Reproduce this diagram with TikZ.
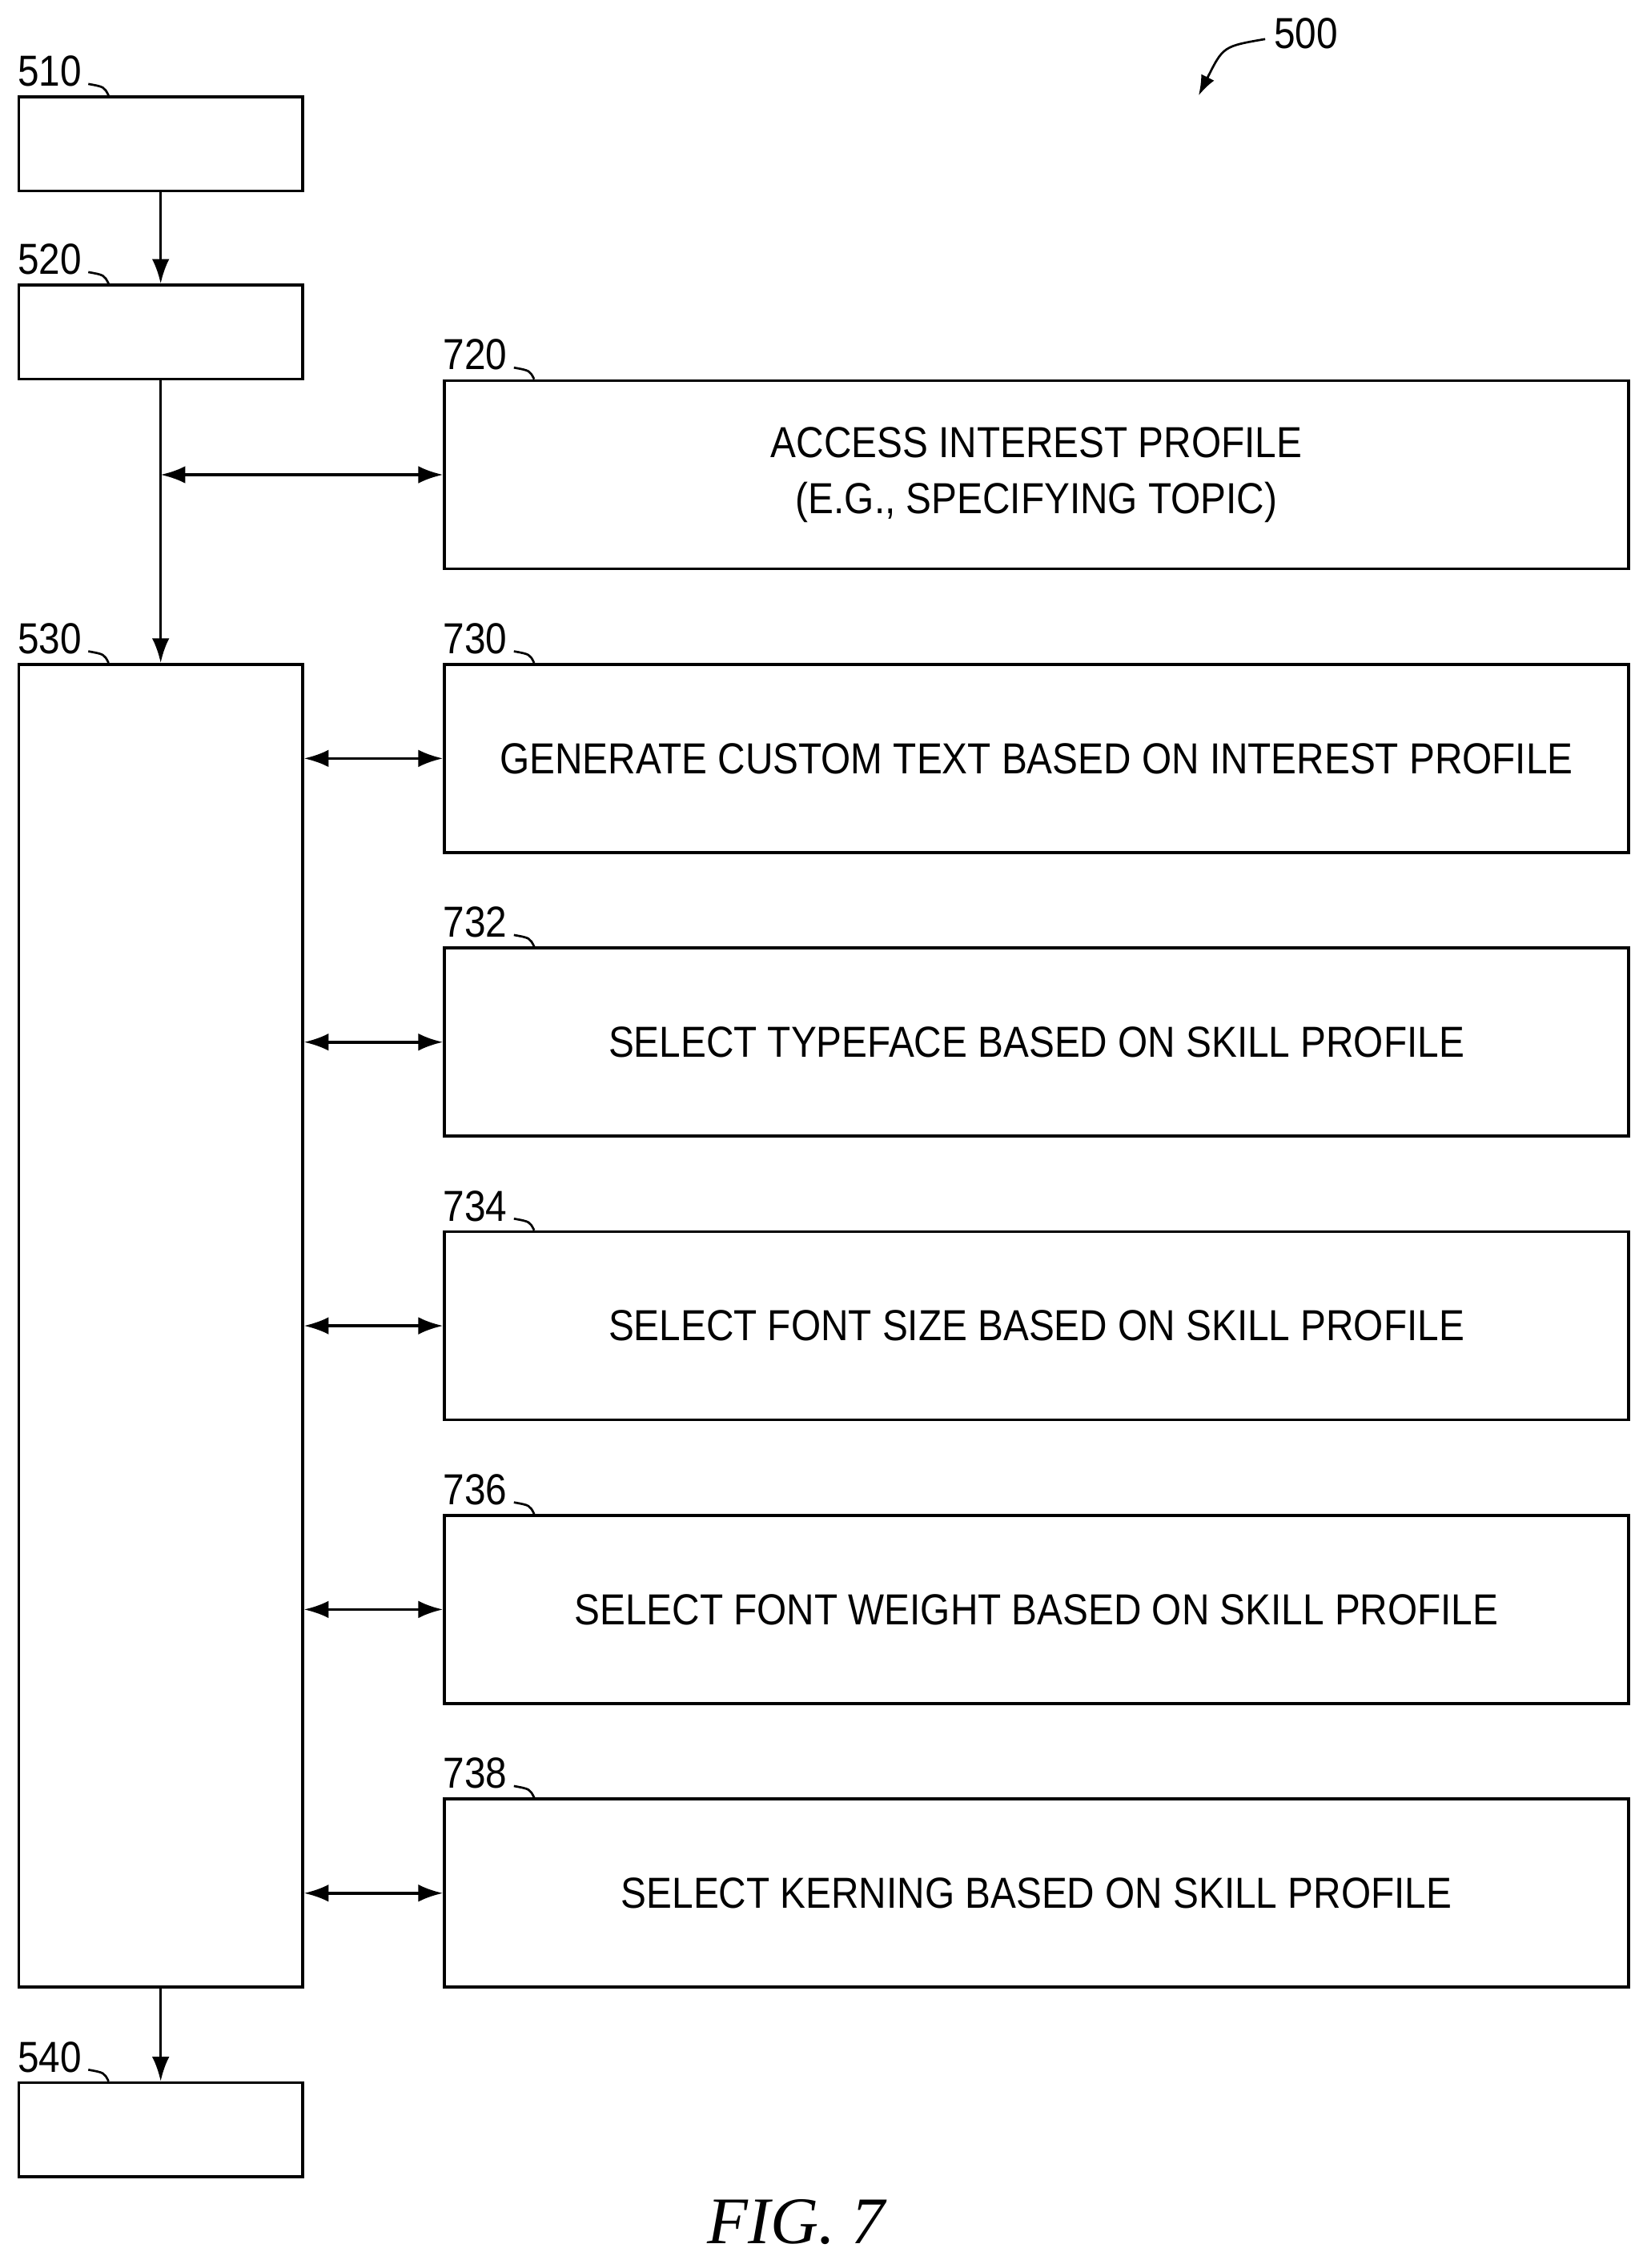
\documentclass[tikz,border=0pt]{standalone}
\usepackage{fontspec}
\setmainfont{Liberation Sans}
\newfontfamily\narrowfont[FakeStretch=0.88]{Liberation Sans}
\newfontfamily\figfont{Liberation Serif}
\usetikzlibrary{arrows.meta,positioning,calc}
\tikzset{
  box/.style={draw, line width=2pt, rectangle, anchor=north west, inner sep=0pt,
    font=\narrowfont\fontsize{30}{39}\selectfont, align=center},
  small/.style={box, minimum width=196pt, minimum height=65pt},
  wide/.style={box, minimum width=818pt, minimum height=130pt},
  flow/.style={line width=2pt, -{Latex[length=17pt,width=12pt]}},
  both/.style={line width=2pt, {Latex[length=17pt,width=12pt]}-{Latex[length=17pt,width=12pt]}},
  reflabel/.style={anchor=south west, inner sep=0pt, font=\narrowfont\fontsize{30}{32}\selectfont},
}
\newcommand{\refmark}[2]{% label number and squiggle above a box corner
  \node[reflabel] at ($(#1.north west)+(0,-6)$) {#2};
  \draw[line width=1.5pt] ($(#1.north west)+(49,-8)$) .. controls ($(#1.north west)+(60,-6)$) .. ($(#1.north west)+(63,0)$);
}
\begin{document}
\begin{tikzpicture}[x=1pt,y=-1pt]
  \useasboundingbox (0,0) rectangle (1135,1567);

  % Left column
  \node[small] (b510) at (12,66) {};
  \node[small] (b520) at (12,196) {};
  \node[box, minimum width=196pt, minimum height=914pt] (b530) at (12,458) {};
  \node[small] (b540) at (12,1438) {};

  % Right column
  \node[wide] (b720) at (306,262) {ACCESS INTEREST PROFILE\\(E.G., SPECIFYING TOPIC)};
  \node[wide] (b730) at (306,458) {GENERATE CUSTOM TEXT BASED ON INTEREST PROFILE};
  \node[wide] (b732) at (306,654) {SELECT TYPEFACE BASED ON SKILL PROFILE};
  \node[wide] (b734) at (306,850) {SELECT FONT SIZE BASED ON SKILL PROFILE};
  \node[wide] (b736) at (306,1046) {SELECT FONT WEIGHT BASED ON SKILL PROFILE};
  \node[wide] (b738) at (306,1242) {SELECT KERNING BASED ON SKILL PROFILE};

  % Reference numerals
  \refmark{b510}{510}
  \refmark{b520}{520}
  \refmark{b530}{530}
  \refmark{b540}{540}
  \refmark{b720}{720}
  \refmark{b730}{730}
  \refmark{b732}{732}
  \refmark{b734}{734}
  \refmark{b736}{736}
  \refmark{b738}{738}

  % Connectors
  \draw[flow] (b510) -- (b520);
  \draw[flow] (b520) -- (b530);
  \draw[flow] (b530) -- (b540);
  \coordinate (tap) at (b520.south |- b720.west);
  \draw[both] (tap) -- (b720.west);
  \foreach \n in {730,732,734,736,738}
    \draw[both] (b530.east |- b\n.west) -- (b\n.west);

  % Figure number
  \node[reflabel, anchor=west] (fig) at (880,23) {500};
  \coordinate (figtip) at (828,66);
  \draw[line width=1.5pt, -{Latex[length=14pt,width=10pt]}] (fig.west) ++(-6,4) .. controls (845,32) .. (figtip);

  \node[font=\figfont\itshape\fontsize{46}{50}\selectfont] (caption) at (550,1535) {FIG. 7};
\end{tikzpicture}
\end{document}
